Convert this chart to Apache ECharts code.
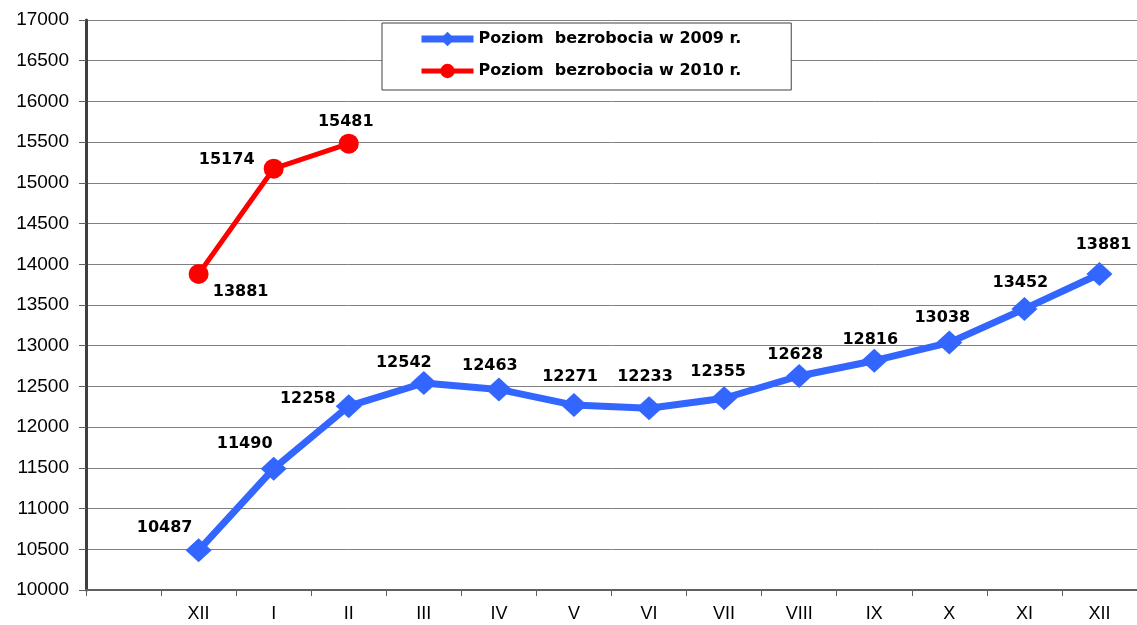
<!DOCTYPE html>
<html>
<head>
<meta charset="utf-8">
<script src="https://cdn.jsdelivr.net/npm/echarts@6/dist/echarts.min.js"></script>
<style>
  html, body { margin: 0; padding: 0; background: #fff; }
  #chart { width: 1137px; height: 625px; }
</style>
</head>
<body>
<div id="chart"></div>
<script>
// kategorie osi X (pierwsza pusta)
const months = ['', 'XII', 'I', 'II', 'III', 'IV', 'V', 'VI', 'VII', 'VIII', 'IX', 'X', 'XI', 'XII']
const bezrobocie2009 = [null, 10487, 11490, 12258, 12542, 12463, 12271, 12233, 12355, 12628, 12816, 13038, 13452, 13881]
const bezrobocie2010 = [null, 13881, 15174, 15481]
const name2009 = 'Poziom  bezrobocia w 2009 r.'
const name2010 = 'Poziom  bezrobocia w 2010 r.'

// przesuniecia etykiet wzgledem punktu (styl)
const off2009 = [null, [-34, -23], [-29, -25], [-41, -7], [-20, -20], [-9, -24], [-4, -28], [-4, -31], [-6, -26], [-4, -21], [-4, -21], [-7, -25], [-4, -26], [4, -29]]
const off2010 = [null, [42, 18], [-47, -9], [-3, -22]]

const labelFont = { fontFamily: 'DejaVu Sans', fontWeight: 'bold', fontSize: 16, color: '#000' }

function withLabels(values, offsets) {
  return values.map((v, i) => v == null ? null : {
    value: v,
    label: { offset: offsets[i] }
  })
}

const chart = echarts.init(document.getElementById('chart'))
const option = {
  animation: false,
  backgroundColor: '#fff',
  grid: { left: 86, top: 20, right: 0, bottom: 35 },
  legend: {
    orient: 'vertical',
    left: 382,
    top: 23,
    padding: [8, 50, 11, 36],
    itemWidth: 52,
    itemHeight: 18,
    itemGap: 16,
    backgroundColor: '#fff',
    borderColor: '#404040',
    borderWidth: 1,
    textStyle: { fontFamily: 'DejaVu Sans', fontWeight: 'bold', fontSize: 16, color: '#000' },
    data: [
      { name: name2009, lineStyle: { width: 7 } },
      { name: name2010, lineStyle: { width: 5 } }
    ]
  },
  xAxis: {
    type: 'category',
    data: months,
    boundaryGap: true,
    axisLine: { lineStyle: { color: '#606060', width: 2 } },
    axisTick: { show: true, length: 6, lineStyle: { color: '#606060' } },
    axisLabel: { fontFamily: 'Liberation Sans', fontSize: 18, color: '#000', margin: 15 },
    splitLine: { show: false }
  },
  yAxis: {
    type: 'value',
    min: 10000,
    max: 17000,
    interval: 500,
    axisLine: { show: true, lineStyle: { color: '#404040', width: 3 } },
    axisTick: { show: true, length: 7, lineStyle: { color: '#606060' } },
    axisLabel: { fontFamily: 'Liberation Sans', fontSize: 19, color: '#000', margin: 17, formatter: v => String(v) },
    splitLine: { show: true, lineStyle: { color: '#808080', width: 1 } }
  },
  series: [
    {
      name: name2009,
      type: 'line',
      data: withLabels(bezrobocie2009, off2009),
      symbol: 'diamond',
      symbolSize: [26, 24],
      itemStyle: { color: '#3366ff' },
      lineStyle: { color: '#3366ff', width: 7 },
      label: Object.assign({ show: true, position: 'inside' }, labelFont),
      z: 3
    },
    {
      name: name2010,
      type: 'line',
      data: withLabels(bezrobocie2010, off2010),
      symbol: 'circle',
      symbolSize: 20,
      itemStyle: { color: '#ff0000' },
      lineStyle: { color: '#ff0000', width: 5 },
      label: Object.assign({ show: true, position: 'inside' }, labelFont),
      z: 3
    }
  ]
}
chart.setOption(option)
</script>
</body>
</html>
